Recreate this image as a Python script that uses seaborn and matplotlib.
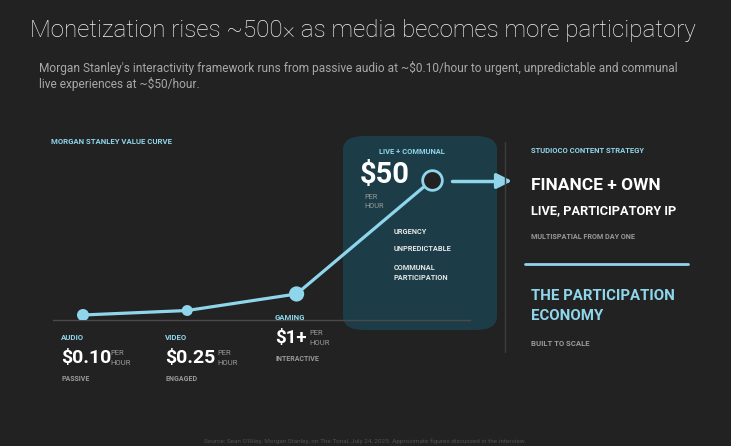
import numpy as np
import pandas as pd
import seaborn as sns
import matplotlib.pyplot as plt
from matplotlib import font_manager
from matplotlib.patches import FancyBboxPatch

# data
stages = ["Audio", "Video", "Gaming", "Live + Communal"]
value_per_hour = [0.10, 0.25, 1.0, 50.0]
interactivity = [1.0, 2.0, 3.05, 4.35]
price_labels = ["$0.10", "$0.25", "$1+", "$50"]
modes = ["PASSIVE", "ENGAGED", "INTERACTIVE", ""]
live_traits = ["URGENCY", "UNPREDICTABLE", "COMMUNAL\nPARTICIPATION"]

BG = "#222222"
BLUE = "#8fd6ec"
TEAL = "#1c3d47"
GREY = "#9a9a9a"
W, H = 731, 446

sns.set_style("dark", rc={"axes.facecolor": "none", "figure.facecolor": BG})
plt.rcParams["font.family"] = ["Roboto", "DejaVu Sans"]

installed = {f.name for f in font_manager.fontManager.ttflist}
TITLE_FONT = "Liberation Sans Narrow" if "Liberation Sans Narrow" in installed else "Roboto"


def px(x, y):
    return x / W, 1 - y / H


def txt(x, y, s, size, color="white", weight="bold", **kw):
    fx, fy = px(x, y)
    return fig.text(fx, fy, s, fontsize=size, color=color, weight=weight,
                    va=kw.pop("va", "center"), ha=kw.pop("ha", "left"), **kw)


def fit_width(t, target):
    # shrink/grow a text so it spans the same width as in the reference
    r = fig.canvas.get_renderer()
    w = t.get_window_extent(r).width
    t.set_fontsize(t.get_fontsize() * target / w)


df = pd.DataFrame({"stage": stages, "interactivity": interactivity,
                   "value": value_per_hour})

fig = plt.figure(figsize=(W / 100, H / 100), dpi=100)

# rounded highlight box behind the live stage
bx0, by0 = px(343, 330)
bx1, by1 = px(497, 136)
box = FancyBboxPatch((bx0, by0), bx1 - bx0, by1 - by0,
                     boxstyle="round,pad=0,rounding_size=0.03",
                     transform=fig.transFigure, facecolor=TEAL,
                     edgecolor="none", zorder=-1)
fig.patches.append(box)

# axes: bottom spine is the baseline (y=320), x from 53 to 470
ax0, ay0 = px(53, 320)
ax1, ay1 = px(470, 136)
ax = fig.add_axes([ax0, ay0, ax1 - ax0, ay1 - ay0])
ax.set_yscale("function", functions=(lambda v: np.log10(np.maximum(v + 1, 1e-6)),
                                     lambda y: 10 ** y - 1))

sns.lineplot(data=df, x="interactivity", y="value", ax=ax, color=BLUE,
             linewidth=2.3, zorder=3)
sns.scatterplot(data=df.iloc[:3], x="interactivity", y="value", ax=ax,
                color=BLUE, s=[75, 62, 120], edgecolor="none", zorder=4,
                legend=False)
sns.scatterplot(data=df.iloc[3:], x="interactivity", y="value", ax=ax,
                facecolor=BG, edgecolor=BLUE, s=200, linewidth=2,
                zorder=5, clip_on=False, legend=False)

unit = (432 - 83) / (interactivity[3] - interactivity[0])
ax.set_xlim(interactivity[0] - 30 / unit, interactivity[0] + 387 / unit)
f_lo, f_hi = np.log10(value_per_hour[0] + 1), np.log10(value_per_hour[3] + 1)
yunit = (315 - 180) / (f_hi - f_lo)
ax.set_ylim(10 ** (f_lo - 5 / yunit) - 1, 10 ** (f_hi + 44 / yunit) - 1)
ax.set_xticks([])
ax.set_yticks([])
ax.set_xlabel("")
ax.set_ylabel("")
for side in ["top", "right", "left"]:
    ax.spines[side].set_visible(False)
ax.spines["bottom"].set_color("#4a4a4a")
ax.spines["bottom"].set_linewidth(1)

# title and subtitle
title = txt(30, 31, "Monetization rises ~500× as media becomes more participatory",
            20, weight="light", color="#f2f2f2", family=[TITLE_FONT, "DejaVu Sans"])
fit_width(title, 667)
txt(39, 68, "Morgan Stanley's interactivity framework runs from passive audio at "
    "~$0.10/hour to urgent, unpredictable and communal", 8.6,
    color="#a8a8a8", weight="normal")
txt(39, 84, "live experiences at ~$50/hour.", 8.6, color="#a8a8a8",
    weight="normal")

txt(51, 141, "MORGAN STANLEY VALUE CURVE", 5.6, color=BLUE)

# stage labels below the baseline
lab_x = [61, 165, 275]
lab_y = [337, 337, 317]
per_x = [110, 217, 309]
for i in range(3):
    txt(lab_x[i], lab_y[i], stages[i].upper(), 5.6, color=BLUE)
    txt(lab_x[i], lab_y[i] + 21, price_labels[i], 14 if i < 2 else 13.5)
    txt(per_x[i], lab_y[i] + 16, "PER", 5.5, color=GREY, weight="normal")
    txt(per_x[i], lab_y[i] + 26, "HOUR", 5.5, color=GREY, weight="normal")
    txt(lab_x[i], lab_y[i] + 42, modes[i], 5.0, color=GREY)

# live + communal box content
txt(379, 152, stages[3].upper(), 5.4, color=BLUE)
txt(360, 175, price_labels[3], 21)
txt(364, 197, "PER", 5.3, color=GREY, weight="normal")
txt(364, 207, "HOUR", 5.3, color=GREY, weight="normal")
txt(394, 232, live_traits[0], 5.3, color="#e6e6e6")
txt(394, 249, live_traits[1], 5.3, color="#e6e6e6")
txt(394, 273, live_traits[2], 5.3, color="#e6e6e6", linespacing=1.3)

# arrow to the strategy panel
fig.add_artist(plt.Line2D([px(452, 0)[0], px(500, 0)[0]],
                          [px(0, 181)[1]] * 2, color=BLUE, lw=2.5,
                          transform=fig.transFigure))
ax.annotate("", xy=px(512, 181), xytext=px(495, 181),
            xycoords="figure fraction", textcoords="figure fraction",
            arrowprops=dict(arrowstyle="-|>,head_length=0.9,head_width=0.45",
                            color=BLUE, lw=2.5, shrinkA=0, shrinkB=0))

# separators
fig.add_artist(plt.Line2D([px(505, 0)[0]] * 2, [px(0, 142)[1], px(0, 352)[1]],
                          color="#3c3c3c", lw=1, transform=fig.transFigure))
fig.add_artist(plt.Line2D([px(525, 0)[0], px(688, 0)[0]], [px(0, 264)[1]] * 2,
                          color=BLUE, lw=2, transform=fig.transFigure))

# strategy panel
txt(531, 150, "STUDIOCO CONTENT STRATEGY", 5.5, color=BLUE)
txt(531, 185, "FINANCE + OWN", 12.5)
txt(531, 211, "LIVE, PARTICIPATORY IP", 9.2)
txt(531, 237, "MULTISPATIAL FROM DAY ONE", 5.2, color=GREY)
txt(531, 296, "THE PARTICIPATION", 10.8, color=BLUE)
txt(531, 316, "ECONOMY", 10.8, color=BLUE)
txt(531, 343, "BUILT TO SCALE", 5.6, color=GREY)

# source note
txt(365, 441, "Source: Sean O'Riley, Morgan Stanley, on The Tonal, July 24, 2025. "
    "Approximate figures discussed in the interview.", 4.6, color="#505050",
    weight="normal", ha="center")

fig.savefig("out.png", dpi=100, facecolor=BG)
